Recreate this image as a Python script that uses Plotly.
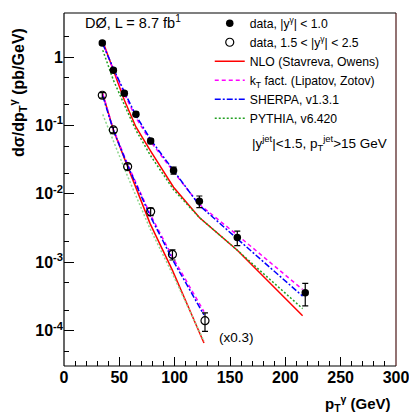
import plotly.graph_objects as go

# ---- data (central region |y|<1.0) ----
pt_c = [34.6, 44.6, 54.5, 65.0, 78.3, 99.0, 122.3, 156.6, 218.0]
data_c = [1.60, 0.64, 0.295, 0.146, 0.059, 0.022, 0.0078, 0.0023, 3.6e-4]
err_c = [0.10, 0.04, 0.02, 0.010, 0.005, 0.0026, 0.0015, 0.00055, 1.3e-4]

# ---- data (forward region 1.5<|y|<2.5, x0.3) ----
pt_f = [34.6, 44.6, 57.5, 78.3, 98.0, 127.4]
data_f = [0.276, 0.086, 0.025, 0.0055, 0.0013, 1.4e-4]
err_f = [0.025, 0.008, 0.0025, 0.0007, 0.00022, 0.42e-4]

# ---- theory, central ----
th_pt_c = [35.0, 44.6, 54.5, 65.0, 78.3, 99.0, 122.3, 156.6, 215.6]
nlo_c = [1.70, 0.64, 0.235, 0.095, 0.042, 0.0125, 0.0045, 0.0015, 1.65e-4]
kt_c = [1.60, 0.66, 0.29, 0.13, 0.058, 0.021, 0.0070, 0.0025, 4.0e-4]
sherpa_c = [1.55, 0.68, 0.31, 0.14, 0.062, 0.022, 0.0068, 0.0022, 3.2e-4]
pythia_c = [1.26, 0.46, 0.20, 0.085, 0.036, 0.0115, 0.0045, 0.0015, 2.1e-4]

# ---- theory, forward ----
th_pt_f = [35.0, 44.6, 57.5, 77.7, 98.0, 126.5]
nlo_f = [0.29, 0.086, 0.025, 0.0037, 7.6e-4, 6.6e-5]
kt_f = [0.29, 0.088, 0.027, 0.0051, 0.0012, 1.9e-4]
sherpa_f = [0.27, 0.085, 0.026, 0.0048, 0.0011, 1.7e-4]
pythia_f = [0.145, 0.059, 0.018, 0.0031, 6.8e-4, 7.0e-5]

y_tickvals = [1e-4, 1e-3, 1e-2, 1e-1, 1]
y_ticktext = ["10<sup>-4</sup>", "10<sup>-3</sup>", "10<sup>-2</sup>", "10<sup>-1</sup>", "1"]
x_tickvals = [0, 50, 100, 150, 200, 250, 300]

RED = "#ff0000"
MAG = "#ff00ff"
BLUE = "#0000ff"
GREEN = "#22a022"
LGREEN = "#8fd68f"
FONT = "Liberation Sans, Arial, Helvetica, sans-serif"

fig = go.Figure()

# theory curves, central
fig.add_trace(go.Scatter(x=th_pt_c, y=nlo_c, mode="lines", line=dict(color=RED, width=1.5),
                         name="NLO (Stavreva, Owens)", legendrank=3))
fig.add_trace(go.Scatter(x=th_pt_c, y=kt_c, mode="lines", line=dict(color=MAG, width=1.5, dash="4px,3px"),
                         name="k<sub>T</sub> fact. (Lipatov, Zotov)", legendrank=4))
fig.add_trace(go.Scatter(x=th_pt_c, y=sherpa_c, mode="lines", line=dict(color=BLUE, width=1.5, dash="6px,2px,2px,2px"),
                         name="SHERPA, v1.3.1", legendrank=5))
fig.add_trace(go.Scatter(x=th_pt_c, y=pythia_c, mode="lines", line=dict(color=GREEN, width=1.5, dash="2px,2px"),
                         name="PYTHIA, v6.420", legendrank=6))
# theory curves, forward
fig.add_trace(go.Scatter(x=th_pt_f, y=nlo_f, mode="lines", line=dict(color=RED, width=1.5), showlegend=False))
fig.add_trace(go.Scatter(x=th_pt_f, y=kt_f, mode="lines", line=dict(color=MAG, width=1.5, dash="4px,3px"), showlegend=False))
fig.add_trace(go.Scatter(x=th_pt_f, y=sherpa_f, mode="lines", line=dict(color=BLUE, width=1.5, dash="6px,2px,2px,2px"), showlegend=False))
fig.add_trace(go.Scatter(x=th_pt_f, y=pythia_f, mode="lines", line=dict(color=LGREEN, width=1.5, dash="2px,2px"), showlegend=False))

# data
fig.add_trace(go.Scatter(x=pt_c, y=data_c, mode="markers",
                         marker=dict(symbol="circle", size=7.5, color="black"),
                         error_y=dict(type="data", array=err_c, color="black", thickness=1.2, width=3),
                         name="data, |y<sup>γ</sup>| < 1.0", legendrank=1))
fig.add_trace(go.Scatter(x=pt_f, y=data_f, mode="markers",
                         marker=dict(symbol="circle-open", size=8, color="black", line=dict(width=1.2)),
                         error_y=dict(type="data", array=err_f, color="black", thickness=1.2, width=3),
                         name="data, 1.5 < |y<sup>γ</sup>| < 2.5", legendrank=2))

fig.update_layout(
    width=409, height=418,
    margin=dict(l=64, r=13, t=13, b=52, autoexpand=False),
    paper_bgcolor="white", plot_bgcolor="white",
    font=dict(family=FONT, color="black"),
    showlegend=True,
    legend=dict(x=0.439, y=1.012, xanchor="left", yanchor="top", bgcolor="rgba(0,0,0,0)",
                font=dict(size=12.2, family=FONT), tracegroupgap=0, itemwidth=30,
                traceorder="normal"),
    xaxis=dict(range=[0, 300], tickvals=x_tickvals, ticks="inside", ticklen=9, tickcolor="black",
               showline=False, showgrid=False, zeroline=False, ticklabeloverflow="allow",
               tickfont=dict(size=16, family=FONT, weight="bold"),
               minor=dict(ticks="inside", ticklen=5, dtick=10, tickcolor="black", showgrid=False)),
    yaxis=dict(type="log", range=[-4.516, 0.643], tickvals=y_tickvals, ticktext=y_ticktext,
               ticks="inside", ticklen=10, tickcolor="black",
               showline=False, showgrid=False, zeroline=False, ticklabeloverflow="allow",
               tickfont=dict(size=16, family=FONT, weight="bold"),
               minor=dict(ticks="inside", ticklen=5, tickcolor="black", showgrid=False)),
)

# frame: black left/bottom/top, dark red right
fig.add_shape(type="line", xref="paper", yref="paper", x0=0, x1=0, y0=0, y1=1, line=dict(color="black", width=1.2))
fig.add_shape(type="line", xref="paper", yref="paper", x0=0, x1=1, y0=0, y1=0, line=dict(color="black", width=1.2))
fig.add_shape(type="line", xref="paper", yref="paper", x0=0, x1=1, y0=1, y1=1, line=dict(color="black", width=1.2))
fig.add_shape(type="line", xref="paper", yref="paper", x0=1, x1=1, y0=0, y1=1, line=dict(color="#4a1515", width=1.2))

fig.add_annotation(text="DØ, L = 8.7 fb<sup>1</sup>", xref="paper", yref="paper",
                   x=(83 - 64) / 332, y=1 - (22 - 13) / 353, xanchor="left", yanchor="middle",
                   showarrow=False, font=dict(size=14.5, family=FONT))
fig.add_annotation(text="|y<sup>jet</sup>|<1.5, p<sub>T</sub><sup>jet</sup>>15 GeV", xref="paper", yref="paper",
                   x=(250 - 64) / 332, y=1 - (143 - 13) / 353, xanchor="left", yanchor="middle",
                   showarrow=False, font=dict(size=13.5, family=FONT))
fig.add_annotation(text="(x0.3)", xref="paper", yref="paper",
                   x=(217 - 64) / 332, y=1 - (337 - 13) / 353, xanchor="left", yanchor="middle",
                   showarrow=False, font=dict(size=13.5, family=FONT))
fig.add_annotation(text="<b>dσ/dp<sub>T</sub><sup>γ</sup> (pb/GeV)</b>", xref="paper", yref="paper",
                   x=-(64 - 18) / 332, y=1 - (93 - 13) / 353, xanchor="center", yanchor="middle",
                   textangle=-90, showarrow=False, font=dict(size=16, family=FONT))
fig.add_annotation(text="<b>p<sub>T</sub><sup>γ</sup> (GeV)</b>", xref="paper", yref="paper",
                   x=(393 - 64) / 332, y=-(404 - 366) / 353, xanchor="right", yanchor="middle",
                   showarrow=False, font=dict(size=15, family=FONT))

fig.write_html("out.html", post_script="document.body.style.margin='0px';",
               config={"displayModeBar": False})
